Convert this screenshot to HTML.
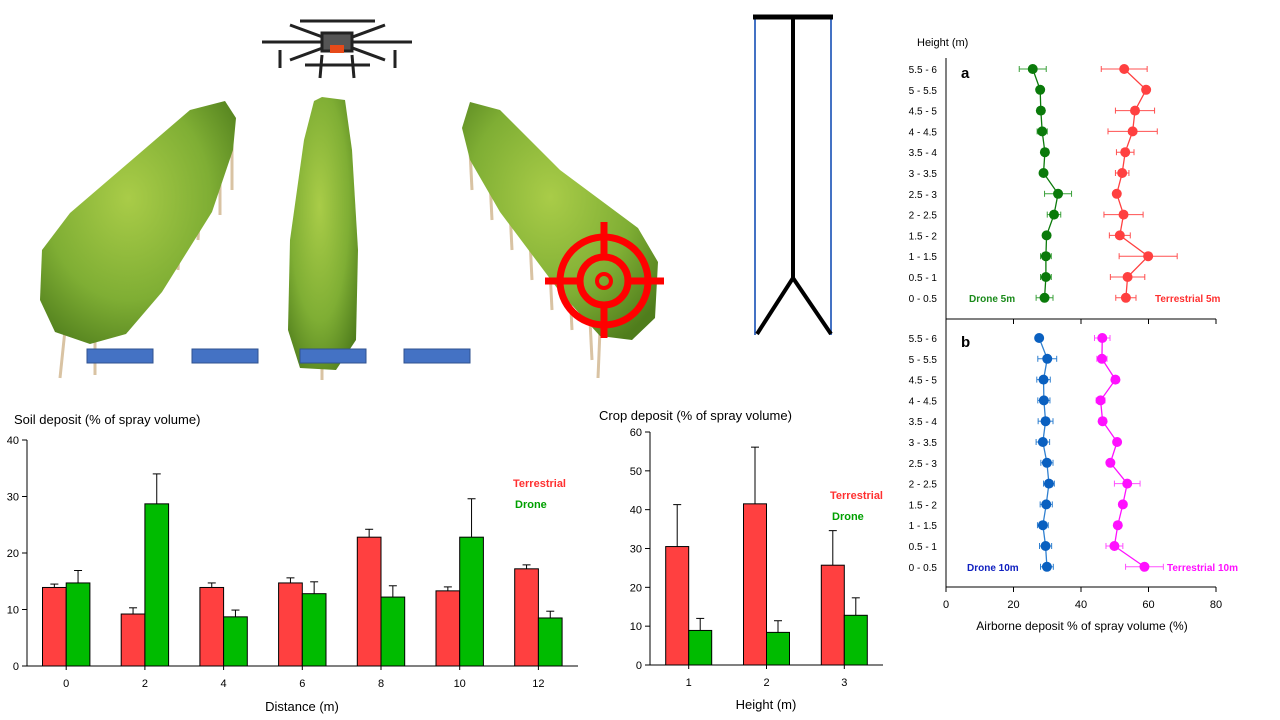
<!DOCTYPE html>
<html><head><meta charset="utf-8"><style>
body{margin:0;background:#fff;width:1280px;height:720px;overflow:hidden}
svg{display:block;font-family:"Liberation Sans",Arial,sans-serif}
</style></head><body>
<svg id="s" width="1280" height="720" viewBox="0 0 1280 720">
<defs>
<radialGradient id="hg" cx="0.45" cy="0.4" r="0.7"><stop offset="0" stop-color="#a9cc48"/><stop offset="0.6" stop-color="#7fae34"/><stop offset="1" stop-color="#4f7d1c"/></radialGradient>
</defs>
<g id="illus">
 <g stroke="#d9c3a3" stroke-width="3" fill="none">
  <path d="M65 330 L60 378"/><path d="M95 330 L95 375"/><path d="M120 290 L118 330"/><path d="M140 270 L140 310"/><path d="M160 250 L158 290"/><path d="M180 230 L178 270"/><path d="M200 200 L198 240"/><path d="M220 170 L220 215"/><path d="M232 140 L232 190"/>
  <path d="M322 360 L322 380"/>
  <path d="M470 150 L472 190"/><path d="M490 180 L492 220"/><path d="M510 210 L512 250"/><path d="M530 240 L532 280"/><path d="M550 270 L552 310"/><path d="M570 290 L572 330"/><path d="M590 320 L592 360"/><path d="M600 330 L598 378"/>
 </g>
 <path fill="url(#hg)" d="M42 250 L70 213 L190 110 L225 101 L236 118 L233 150 L212 212 L162 292 L126 334 L90 344 L55 332 L40 300 Z"/>
 <path fill="url(#hg)" d="M322 97 L345 100 L352 150 L358 250 L356 340 L336 370 L300 368 L288 330 L290 240 L304 140 L314 101 Z"/>
 <path fill="url(#hg)" d="M470 102 L500 110 L560 170 L638 228 L658 262 L655 318 L632 340 L600 336 L560 292 L500 212 L470 160 L462 128 Z"/>
 <g fill="#4472c4" stroke="#2f528f" stroke-width="1">
  <rect x="87" y="349" width="66" height="14"/><rect x="192" y="349" width="66" height="14"/><rect x="300" y="349" width="66" height="14"/><rect x="404" y="349" width="66" height="14"/>
 </g>
 <g stroke="#ff0000" stroke-width="7" fill="none">
  <circle cx="604" cy="281" r="44"/><circle cx="604" cy="281" r="24"/><circle cx="604" cy="281" r="7" stroke-width="4"/>
  <line x1="545" y1="281" x2="580" y2="281"/><line x1="628" y1="281" x2="664" y2="281"/>
  <line x1="604" y1="222" x2="604" y2="257"/><line x1="604" y1="305" x2="604" y2="338"/>
 </g>
 <g stroke="#222" stroke-width="3" fill="none">
  <line x1="262" y1="42" x2="412" y2="42"/><line x1="290" y1="25" x2="385" y2="60"/><line x1="290" y1="60" x2="385" y2="25"/>
  <line x1="300" y1="21" x2="375" y2="21"/><line x1="305" y1="65" x2="370" y2="65"/>
  <rect x="322" y="33" width="30" height="18" fill="#555"/><rect x="330" y="45" width="14" height="8" fill="#e64a19" stroke="none"/>
  <line x1="322" y1="55" x2="320" y2="78"/><line x1="352" y1="55" x2="354" y2="78"/>
  <line x1="280" y1="50" x2="280" y2="68"/><line x1="395" y1="50" x2="395" y2="68"/>
 </g>
</g>
<g>
 <line x1="755" y1="18" x2="755" y2="335" stroke="#4472c4" stroke-width="2"/>
 <line x1="831" y1="18" x2="831" y2="335" stroke="#4472c4" stroke-width="2"/>
 <line x1="753" y1="17" x2="833" y2="17" stroke="#000" stroke-width="5"/>
 <line x1="793" y1="17" x2="793" y2="278" stroke="#000" stroke-width="4"/>
 <polyline points="757,334 793,278 831,334" stroke="#000" stroke-width="4" fill="none"/>
</g>
<g id="soil"></g>
<g id="crop"></g>
<g id="air"></g>
</svg>
<script>
// Soil chart data
const soilCats = ['0','2','4','6','8','10','12'];
const soilTerr = [13.9,9.2,13.9,14.7,22.8,13.3,17.2];
const soilTerrErr = [0.6,1.1,0.8,0.9,1.4,0.7,0.7];
const soilDrone = [14.7,28.7,8.7,12.8,12.2,22.8,8.5];
const soilDroneErr = [2.2,5.3,1.2,2.1,2.0,6.8,1.2];
const soilTicks = [0,10,20,30,40];
// Crop chart data
const cropCats = ['1','2','3'];
const cropTerr = [30.5,41.5,25.7];
const cropTerrErr = [10.8,14.6,8.9];
const cropDrone = [8.9,8.4,12.8];
const cropDroneErr = [3.1,3.0,4.5];
const cropTicks = [0,10,20,30,40,50,60];
// Airborne data
const heights = ['5.5 - 6','5 - 5.5','4.5 - 5','4 - 4.5','3.5 - 4','3 - 3.5','2.5 - 3','2 - 2.5','1.5 - 2','1 - 1.5','0.5 - 1','0 - 0.5'];
const drone5 = [25.7,27.9,28.1,28.5,29.3,28.9,33.2,32.0,29.8,29.6,29.6,29.2];
const drone5Err = [4,1,1,1.5,1,1,4,2,1,1.6,1.6,2.5];
const terr5 = [52.8,59.3,56.0,55.3,53.1,52.2,50.6,52.6,51.5,59.9,53.8,53.3];
const terr5Err = [6.8,0.8,5.8,7.3,2.6,2,1,5.8,3.1,8.6,5.1,3];
const drone10 = [27.6,30.0,28.9,29.0,29.5,28.7,29.9,30.5,29.7,28.7,29.5,29.9];
const drone10Err = [0.5,2.8,2,1.8,2.2,2,1.8,1.6,1.8,1.6,1.8,1.9];
const terr10 = [46.3,46.2,50.2,45.8,46.4,50.7,48.7,53.7,52.4,50.9,49.9,58.8];
const terr10Err = [2.3,1.5,1,1.3,1,1,0.8,3.8,0.5,1,2.5,5.6];
const airTicks = [0,20,40,60,80];

const NS='http://www.w3.org/2000/svg';
function mk(parent,tag,attrs,txt){const e=document.createElementNS(NS,tag);for(const k in attrs)e.setAttribute(k,attrs[k]);if(txt!==undefined)e.textContent=txt;parent.appendChild(e);return e;}

function barChart(g,o){
  const y=v=>o.y0-(v-o.vmin)*(o.y0-o.y1)/(o.vmax-o.vmin);
  const cx=i=>o.c0+i*o.step;
  let t=mk(g,'text',{x:o.tx,y:o.ty,'font-size':13,fill:'#000'},o.title);
  
  
  let a=mk(g,'line',{x1:o.ax,y1:y(o.vmax),x2:o.ax,y2:o.y0,stroke:'#000','stroke-width':1});
  
  
  a=mk(g,'line',{x1:o.ax-5,y1:o.y0,x2:o.xEnd,y2:o.y0,stroke:'#000','stroke-width':1});
  
  
  o.ticks.forEach(v=>{
    mk(g,'line',{x1:o.ax-5,y1:y(v),x2:o.ax,y2:y(v),stroke:'#000'});
    let l=mk(g,'text',{x:o.ax-8,y:y(v)+4,'font-size':11,'text-anchor':'end'},String(v));
    
    
  });
  o.cats.forEach((c,i)=>{
    mk(g,'line',{x1:cx(i),y1:o.y0,x2:cx(i),y2:o.y0+4,stroke:'#000'});
    let l=mk(g,'text',{x:cx(i),y:o.y0+21,'font-size':11,'text-anchor':'middle'},c);
    
    
    [[o.s1,o.e1,'#ff4040',-1],[o.s2,o.e2,'#00bb00',0]].forEach(([s,e,col,off])=>{
      const x0=cx(i)+off*o.bw;
      mk(g,'line',{x1:x0+o.bw/2,y1:y(s[i]),x2:x0+o.bw/2,y2:y(s[i]+e[i]),stroke:'#000'});
      mk(g,'line',{x1:x0+o.bw/2-4,y1:y(s[i]+e[i]),x2:x0+o.bw/2+4,y2:y(s[i]+e[i]),stroke:'#000'});
      let r=mk(g,'rect',{x:x0,y:y(s[i]),width:o.bw,height:o.y0-y(s[i]),fill:col,stroke:'#000','stroke-width':1});
      
      
    });
  });
  let xt=mk(g,'text',{x:o.xtx,y:o.xty,'font-size':13,'text-anchor':'middle'},o.xtitle);
  
  
  let l1=mk(g,'text',{x:o.lx,y:o.ly,'font-size':11,'font-weight':'bold',fill:'#ff3030'},'Terrestrial');
  
  
  let l2=mk(g,'text',{x:o.lx+2,y:o.ly+21,'font-size':11,'font-weight':'bold',fill:'#00a000'},'Drone');
  
  
}
barChart(document.getElementById('soil'),{title:'Soil deposit (% of spray volume)',tx:14,ty:424,ax:27,y0:666,y1:440,vmin:0,vmax:40,xEnd:578,c0:66.2,step:78.7,bw:23.7,ticks:soilTicks,cats:soilCats,s1:soilTerr,e1:soilTerrErr,s2:soilDrone,e2:soilDroneErr,xtitle:'Distance (m)',xtx:302,xty:711,lx:513,ly:487});
barChart(document.getElementById('crop'),{title:'Crop deposit (% of spray volume)',tx:599,ty:420,ax:650,y0:665,y1:432,vmin:0,vmax:60,xEnd:883,c0:688.7,step:77.8,bw:23,ticks:cropTicks,cats:cropCats,s1:cropTerr,e1:cropTerrErr,s2:cropDrone,e2:cropDroneErr,xtitle:'Height (m)',xtx:766,xty:709,lx:830,ly:499});

// Airborne chart
const air=document.getElementById('air');
const ax=v=>946+v*3.375;
function panel(top,bottom,y0,series,letter){
  const ay=i=>y0+i*20.8;
  mk(air,'line',{x1:946,y1:top,x2:946,y2:bottom,stroke:'#000'});
  let xa=mk(air,'line',{x1:946,y1:bottom,x2:1216,y2:bottom,stroke:'#000'});
  
  
  airTicks.forEach(v=>mk(air,'line',{x1:ax(v),y1:bottom,x2:ax(v),y2:bottom+5,stroke:'#000'}));
  heights.forEach((h,i)=>{
    let t=mk(air,'text',{x:937,y:ay(i)+4,'font-size':10,'text-anchor':'end'},h);
    
    
  });
  let pl=mk(air,'text',{x:961,y:y0+9,'font-size':15,'font-weight':'bold'},letter);
  
  
  series.forEach(s=>{
    const g=mk(air,'g',{});
    
    
    s.v.forEach((v,i)=>{
      mk(g,'line',{x1:ax(v-s.e[i]),y1:ay(i),x2:ax(v+s.e[i]),y2:ay(i),stroke:s.ec,'stroke-width':1});
      mk(g,'line',{x1:ax(v-s.e[i]),y1:ay(i)-3,x2:ax(v-s.e[i]),y2:ay(i)+3,stroke:s.ec});
      mk(g,'line',{x1:ax(v+s.e[i]),y1:ay(i)-3,x2:ax(v+s.e[i]),y2:ay(i)+3,stroke:s.ec});
    });
    mk(g,'polyline',{points:s.v.map((v,i)=>ax(v)+','+ay(i)).join(' '),fill:'none',stroke:s.lc,'stroke-width':1.3});
    s.v.forEach((v,i)=>{
      let c=mk(g,'circle',{cx:ax(v),cy:ay(i),r:5,fill:s.c});
      
      
    });
    let lg=mk(air,'text',{x:s.lx,y:ay(11)+4,'font-size':10,'font-weight':'bold',fill:s.tc},s.label);
    
    
  });
}
let hl=mk(air,'text',{x:917,y:46,'font-size':11},'Height (m)');


panel(58,319,69,[
 {name:'drone-5m',v:drone5,e:drone5Err,c:'#0a7a0a',lc:'#0a7a0a',ec:'#3aa03a',tc:'#1a8a1a',label:'Drone 5m',lx:969},
 {name:'terrestrial-5m',v:terr5,e:terr5Err,c:'#ff4040',lc:'#ff4040',ec:'#ff5050',tc:'#ff3030',label:'Terrestrial 5m',lx:1155}],'a');
panel(319,587,338,[
 {name:'drone-10m',v:drone10,e:drone10Err,c:'#0a60c0',lc:'#3080d0',ec:'#3080d0',tc:'#1020c0',label:'Drone 10m',lx:967},
 {name:'terrestrial-10m',v:terr10,e:terr10Err,c:'#ff10ff',lc:'#ff10ff',ec:'#ff50ff',tc:'#ff10ff',label:'Terrestrial 10m',lx:1167}],'b');
airTicks.forEach(v=>{
  let t=mk(air,'text',{x:ax(v),y:608,'font-size':11,'text-anchor':'middle'},String(v));
  
  
});
let at=mk(air,'text',{x:1082,y:630,'font-size':12,'text-anchor':'middle'},'Airborne deposit % of spray volume (%)');


</script>
</body></html>
